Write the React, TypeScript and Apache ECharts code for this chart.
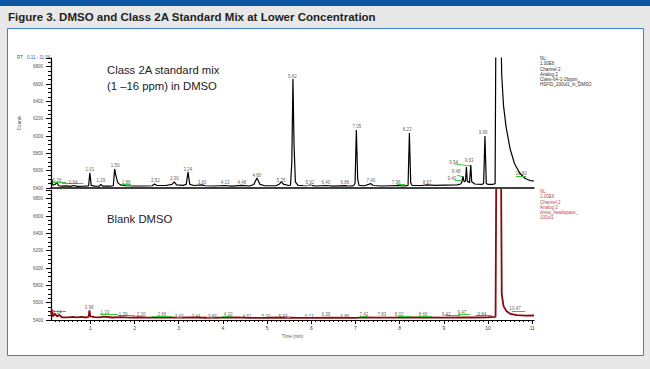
import React, { useEffect, useRef } from "react";
import * as echarts from "echarts";

// ---------- data ----------
const X_MIN = 0.11;
const X_MAX = 11.04;
const X_TICKS = [1, 2, 3, 4, 5, 6, 7, 8, 9, 10, 11];
const Y_MIN = 5400;
const Y_MAX = 6900;
const Y_STEP = 200;

// Class 2A standard mix chromatogram [time (min), counts]
const TOP_TRACE: [number, number][] = [
  [0.11, 5445], [0.13, 5500], [0.15, 5432], [0.2, 5440], [0.25, 5462], [0.28, 5426],
  [0.35, 5421], [0.45, 5425], [0.55, 5419], [0.62, 5429], [0.7, 5419], [0.85, 5421],
  [0.96, 5423], [0.99, 5575], [1.02, 5430], [1.1, 5421], [1.2, 5420], [1.24, 5440],
  [1.28, 5421], [1.45, 5421], [1.52, 5426], [1.55, 5620], [1.58, 5540], [1.62, 5462],
  [1.68, 5436], [1.8, 5426], [2.0, 5423], [2.2, 5423], [2.4, 5426], [2.45, 5446],
  [2.5, 5431], [2.7, 5429], [2.85, 5441], [2.9, 5470], [2.95, 5436], [3.1, 5431],
  [3.17, 5441], [3.21, 5585], [3.25, 5441], [3.35, 5429], [3.53, 5436], [3.6, 5426],
  [3.8, 5423], [4.05, 5429], [4.2, 5421], [4.43, 5431], [4.6, 5423], [4.7, 5441],
  [4.77, 5515], [4.84, 5441], [4.95, 5426], [5.2, 5426], [5.28, 5446], [5.32, 5470],
  [5.38, 5441], [5.5, 5429], [5.53, 5432], [5.56, 5700], [5.585, 6658], [5.61, 5900],
  [5.64, 5471], [5.7, 5431], [5.9, 5426], [5.97, 5433], [6.1, 5423], [6.33, 5429],
  [6.5, 5421], [6.76, 5427], [6.95, 5423], [6.99, 5452], [7.02, 6069], [7.05, 5500],
  [7.08, 5431], [7.2, 5426], [7.35, 5451], [7.4, 5429], [7.6, 5423], [7.94, 5429],
  [8.1, 5423], [8.19, 5431], [8.22, 6035], [8.25, 5461], [8.28, 5431], [8.5, 5429],
  [8.62, 5436], [8.8, 5431], [9.0, 5433], [9.3, 5436], [9.38, 5446], [9.41, 5471],
  [9.43, 5538], [9.46, 5471], [9.49, 5481], [9.51, 5642], [9.53, 5481], [9.58, 5461],
  [9.61, 5665], [9.63, 5471], [9.7, 5446], [9.85, 5441], [9.9, 5451], [9.93, 6000],
  [9.96, 5451], [10.0, 5441], [10.1, 5441], [10.16, 5451], [10.18, 7500], [10.28, 7500],
  [10.31, 6700], [10.35, 6350], [10.41, 6100], [10.5, 5850], [10.6, 5680], [10.72, 5570],
  [10.84, 5510], [10.95, 5486], [11.04, 5481],
];

// Blank DMSO chromatogram [time (min), counts]
const BOTTOM_TRACE: [number, number][] = [
  [0.11, 5470], [0.13, 5520], [0.15, 5442], [0.2, 5470], [0.25, 5441], [0.3, 5460],
  [0.35, 5432], [0.5, 5430], [0.6, 5436], [0.7, 5431], [0.8, 5437], [0.9, 5429],
  [0.96, 5436], [0.98, 5510], [1.0, 5441], [1.1, 5433], [1.2, 5431], [1.3, 5439],
  [1.5, 5429], [1.7, 5434], [1.9, 5428], [2.1, 5432], [2.3, 5427], [2.6, 5431],
  [3.0, 5428], [3.3, 5431], [3.6, 5426], [4.0, 5427], [4.3, 5430], [4.6, 5425],
  [5.0, 5426], [5.4, 5429], [5.7, 5424], [6.0, 5425], [6.4, 5428], [7.0, 5425],
  [7.2, 5431], [7.5, 5428], [8.0, 5427], [8.4, 5430], [9.0, 5428], [9.4, 5431],
  [9.7, 5429], [10.0, 5432], [10.17, 5436], [10.19, 7500], [10.29, 7500], [10.31, 5700],
  [10.35, 5560], [10.42, 5500], [10.5, 5472], [10.65, 5456], [10.85, 5450], [11.04, 5452],
];

// peak labels [time, counts, text]
const TOP_LABELS: [number, number, string][] = [
  [0.25, 5481, "0.26"], [0.61, 5469, "0.64"], [0.99, 5608, "1.01"], [1.24, 5481, "1.29"],
  [1.56, 5654, "1.59"], [1.81, 5469, "1.86"], [2.47, 5492, "2.52"], [2.9, 5515, "2.90"],
  [3.21, 5619, "3.24"], [3.53, 5469, "3.60"], [4.05, 5458, "4.13"], [4.43, 5458, "4.48"],
  [4.77, 5550, "4.80"], [5.32, 5492, "5.35"], [5.57, 6690, "5.62"], [5.97, 5458, "5.92"],
  [6.33, 5458, "6.40"], [6.76, 5458, "6.86"], [7.03, 6105, "7.05"], [7.35, 5481, "7.40"],
  [7.92, 5458, "7.96"], [8.17, 6071, "8.23"], [8.62, 5469, "8.67"], [9.18, 5515, "9.40"],
  [9.28, 5585, "9.48"], [9.22, 5700, "9.54"], [9.57, 5712, "9.63"], [9.89, 6040, "9.96"],
  [10.75, 5562, "10.80"],
];

const BOTTOM_LABELS: [number, number, string][] = [
  [0.25, 5481, "0.14"], [0.97, 5539, "0.98"], [1.33, 5481, "1.19"], [1.74, 5469, "1.39"],
  [2.15, 5458, "2.20"], [2.62, 5469, "2.69"], [3.01, 5446, "3.03"], [3.39, 5446, "3.44"],
  [3.76, 5446, "3.87"], [4.12, 5458, "4.20"], [4.55, 5446, "4.61"], [4.98, 5446, "5.01"],
  [5.36, 5446, "5.33"], [5.95, 5446, "6.13"], [6.33, 5458, "6.39"], [6.76, 5446, "6.86"],
  [7.19, 5469, "7.42"], [7.6, 5458, "7.83"], [7.99, 5458, "8.02"], [8.53, 5458, "8.66"],
  [9.05, 5469, "9.42"], [9.41, 5481, "9.47"], [9.86, 5469, "9.84"], [10.61, 5527, "10.47"],
];

// integration baseline marks [t1, v1, t2, v2]
const TOP_MARKS: [number, number, number, number][] = [
  [0.14, 5469, 0.45, 5469], [0.36, 5458, 0.84, 5458], [1.7, 5446, 1.92, 5446],
  [5.81, 5435, 6.02, 5435], [6.81, 5435, 6.88, 5435], [7.94, 5446, 8.12, 5446],
  [9.25, 5677, 9.59, 5654], [9.3, 5550, 9.43, 5527], [9.25, 5492, 9.41, 5492],
  [10.63, 5538, 10.86, 5538],
];

const BOTTOM_MARKS: [number, number, number, number][] = [
  [0.14, 5504, 0.45, 5504], [1.22, 5469, 1.63, 5469], [1.63, 5458, 2.01, 5458],
  [2.4, 5446, 2.85, 5446], [2.94, 5435, 3.08, 5435], [3.64, 5435, 3.8, 5435],
  [3.98, 5446, 4.21, 5446], [5.41, 5435, 5.52, 5435], [7.1, 5446, 7.28, 5446],
  [7.94, 5446, 8.28, 5446], [8.42, 5446, 8.73, 5446], [9.03, 5458, 9.37, 5458],
  [9.32, 5469, 9.59, 5469], [9.71, 5458, 10.09, 5458], [10.54, 5504, 10.84, 5504],
];

const TITLE = "Figure 3. DMSO and Class 2A Standard Mix at Lower Concentration";
const TOP_INFO = ["NL:", "1.00E6", "Channel 2", "Analog 2", "Class-IIA-1-16ppm_", "HSFID_200ul1_in_DMSO"];
const BOTTOM_INFO = ["NL:", "1.00E6", "Channel 2", "Analog 2", "dmso_headspace_", "100ul1"];

const FONT = '"Liberation Sans", Arial, sans-serif';

export default function App() {
  const ref = useRef<HTMLDivElement>(null);

  useEffect(() => {
    if (!ref.current) return;
    const chart = echarts.init(ref.current, undefined, { renderer: "svg" });

    const minorX: number[] = [];
    for (let i = 2; i <= 110; i++) if (i % 10 !== 0) minorX.push(i / 10);

    const yAxisBase = (gridIndex: number, name: string) => ({
      gridIndex,
      type: "value",
      min: Y_MIN,
      max: Y_MAX,
      interval: Y_STEP,
      name,
      nameLocation: "middle",
      nameGap: 20,
      nameRotate: 90,
      nameTextStyle: { fontSize: 4.5, color: "#555", fontFamily: FONT },
      axisLine: { show: true, lineStyle: { color: "#000", width: 1.2 } },
      axisTick: { show: true, length: 5, lineStyle: { color: "#000", width: 1 } },
      minorTick: { show: true, splitNumber: 4, length: 3, lineStyle: { color: "#000", width: 1 } },
      axisLabel: {
        fontSize: 4.5,
        color: "#555",
        margin: 8,
        fontFamily: FONT,
        showMaxLabel: false,
        formatter: (v: number) => String(v),
      },
      splitLine: { show: false },
    });

    const labelSeries = (idx: number, data: [number, number, string][]) => ({
      type: "scatter",
      xAxisIndex: idx,
      yAxisIndex: idx,
      symbolSize: 0.1,
      silent: true,
      itemStyle: { color: "rgba(0,0,0,0)" },
      label: {
        show: true,
        position: "inside",
        formatter: (p: any) => p.data[2],
        fontSize: 4.5,
        color: "#333",
        fontFamily: FONT,
      },
      data,
      z: 5,
    });

    const markSeries = (idx: number, data: [number, number, number, number][]) => ({
      type: "lines",
      coordinateSystem: "cartesian2d",
      xAxisIndex: idx,
      yAxisIndex: idx,
      silent: true,
      lineStyle: { color: "#3cc43c", width: 1, opacity: 1 },
      data: data.map((m) => ({ coords: [[m[0], m[1]], [m[2], m[3]]] })),
      z: 4,
    });

    const option: any = {
      animation: false,
      backgroundColor: "#e8e8e8",
      graphic: [
        { type: "rect", shape: { x: 0, y: 0, width: 650, height: 6 }, style: { fill: "#0b57a4" }, z: 0 },
        {
          type: "rect",
          shape: { x: 7.5, y: 28.5, width: 636, height: 327 },
          style: { fill: "#ffffff", stroke: "#3d7fd0", lineWidth: 1 },
          z: -10,
        },
        {
          type: "text",
          x: 8,
          y: 11,
          style: { text: TITLE, font: `bold 11.5px ${FONT}`, fill: "#1e1e1e" },
        },
        {
          type: "text",
          x: 17,
          y: 51,
          style: {
            text: "{a|RT:} {b|0.11 - 11.04}",
            rich: {
              a: { fontSize: 4.5, fill: "#555", fontFamily: FONT },
              b: { fontSize: 4.5, fill: "#3355bb", fontFamily: FONT },
            },
          },
        },
        {
          type: "text",
          x: 540,
          y: 56,
          style: { text: TOP_INFO.join("\n"), fontSize: 4.5, lineHeight: 5.2, fill: "#333", fontFamily: FONT },
        },
        {
          type: "text",
          x: 540,
          y: 189,
          style: { text: BOTTOM_INFO.join("\n"), fontSize: 4.5, lineHeight: 5.2, fill: "#c04848", fontFamily: FONT },
        },
        {
          type: "text",
          x: 107,
          y: 64,
          style: { text: "Class 2A standard mix", fontSize: 11.3, fill: "#222", fontFamily: FONT },
        },
        {
          type: "text",
          x: 107,
          y: 80,
          style: { text: "(1 \u201316 ppm) in DMSO", fontSize: 11.3, fill: "#222", fontFamily: FONT },
        },
        {
          type: "text",
          x: 107,
          y: 213,
          style: { text: "Blank DMSO", fontSize: 11.3, fill: "#222", fontFamily: FONT },
        },
      ],
      grid: [
        { left: 51, top: 58, width: 483, height: 130 },
        { left: 51, top: 190, width: 483, height: 130 },
      ],
      xAxis: [
        {
          gridIndex: 0,
          type: "value",
          min: X_MIN,
          max: X_MAX,
          axisLine: { show: true, onZero: false, lineStyle: { color: "#000", width: 1.5 } },
          axisTick: { show: false },
          axisLabel: { show: false },
          splitLine: { show: false },
        },
        {
          gridIndex: 1,
          type: "value",
          position: "bottom",
          min: X_MIN,
          max: X_MAX,
          name: "Time (min)",
          nameLocation: "middle",
          nameGap: 14,
          nameTextStyle: { fontSize: 4.5, color: "#555", fontFamily: FONT },
          axisLine: { show: true, onZero: false, lineStyle: { color: "#000", width: 1.2 } },
          axisTick: { show: true, length: 4, customValues: X_TICKS, lineStyle: { color: "#000" } },
          axisLabel: { show: true, customValues: X_TICKS, fontSize: 5, color: "#444", margin: 5, fontFamily: FONT },
          splitLine: { show: false },
        },
        {
          gridIndex: 1,
          type: "value",
          position: "bottom",
          min: X_MIN,
          max: X_MAX,
          axisLine: { show: false, onZero: false },
          axisTick: { show: true, length: 2, customValues: minorX, lineStyle: { color: "#000" } },
          axisLabel: { show: false },
          splitLine: { show: false },
        },
      ],
      yAxis: [yAxisBase(0, "Counts"), yAxisBase(1, "")],
      series: [
        {
          type: "line",
          xAxisIndex: 0,
          yAxisIndex: 0,
          data: TOP_TRACE,
          showSymbol: false,
          symbol: "none",
          clip: true,
          lineStyle: { color: "#000", width: 1.2 },
          z: 3,
        },
        {
          type: "line",
          xAxisIndex: 1,
          yAxisIndex: 1,
          data: BOTTOM_TRACE,
          showSymbol: false,
          symbol: "none",
          clip: true,
          lineStyle: { color: "#8a0a0a", width: 1.8 },
          z: 3,
        },
        markSeries(0, TOP_MARKS),
        markSeries(1, BOTTOM_MARKS),
        labelSeries(0, TOP_LABELS),
        labelSeries(1, BOTTOM_LABELS),
      ],
    };

    chart.setOption(option);
    return () => chart.dispose();
  }, []);

  return (
    <div
      ref={ref}
      style={{ position: "fixed", left: 0, top: 0, width: 650, height: 369 }}
    />
  );
}
